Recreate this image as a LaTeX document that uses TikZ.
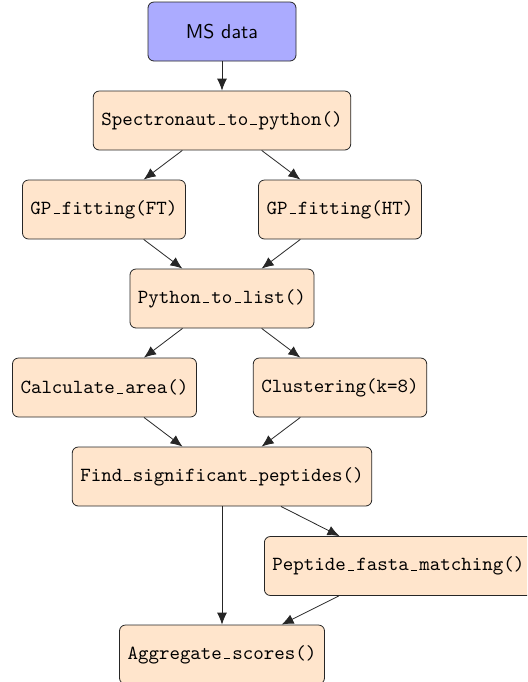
\documentclass[tikz,border=0pt]{standalone}
\usetikzlibrary{arrows.meta}

% short baseline bar in a monospace cell, used for underscores in function names
\newcommand{\usc}{\makebox[5.25pt]{\vbox{\hrule width 3.2pt}}}

\tikzset{
  boxbase/.style={draw=black!85, rounded corners=3pt, minimum height=29.5pt,
                  inner xsep=4pt, font=\ttfamily},
  source/.style={boxbase, fill=blue!33, font=\sffamily, minimum width=74pt},
  proc/.style={boxbase, fill=orange!20},
  flow/.style={-{Latex[length=6pt,width=5pt]}, black!85, line width=0.4pt}
}

\begin{document}
\begin{tikzpicture}[x=0.5pt, y=-0.5pt]
  \useasboundingbox (0,0) rectangle (527,682);
  \clip (0,0) rectangle (527,682);

  \node[source] (ms)   at (222,31.5)  {MS data};
  \node[proc]   (spec) at (222,120.5) {Spectronaut\usc to\usc python()};
  \node[proc]   (gpft) at (104,209.5) {GP\usc fitting(FT)};
  \node[proc]   (gpht) at (340,209.5) {GP\usc fitting(HT)};
  \node[proc]   (pyl)  at (222,298.5) {Python\usc to\usc list()};
  \node[proc]   (calc) at (104.5,387.5) {Calculate\usc area()};
  \node[proc]   (clus) at (340,387.5) {Clustering(k=8)};
  \node[proc]   (find) at (222,476.5) {Find\usc significant\usc peptides()};
  \node[proc, anchor=west] (pep) at (264,566) {Peptide\usc fasta\usc matching()};
  \node[proc]   (agg)  at (222,654.5) {Aggregate\usc scores()};

  \draw[flow] (ms) -- (spec);
  \draw[flow] (spec) -- (gpft);
  \draw[flow] (spec) -- (gpht);
  \draw[flow] (gpft) -- (pyl);
  \draw[flow] (gpht) -- (pyl);
  \draw[flow] (pyl) -- (calc);
  \draw[flow] (pyl) -- (clus);
  \draw[flow] (calc) -- (find);
  \draw[flow] (clus) -- (find);
  \draw[flow] (find) -- (pep);
  \draw[flow] (find) -- (agg);
  \draw[flow] (pep) -- (agg);
\end{tikzpicture}
\end{document}
